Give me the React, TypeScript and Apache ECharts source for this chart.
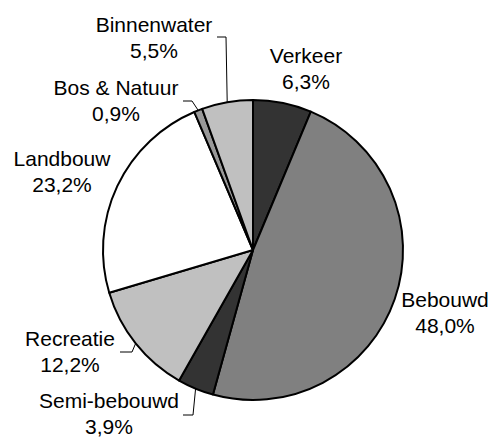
import React, { useEffect, useRef } from "react";
import * as echarts from "echarts";

const categories = ["Verkeer", "Bebouwd", "Semi-bebouwd", "Recreatie", "Landbouw", "Bos & Natuur", "Binnenwater"];
const values = [6.3, 48.0, 3.9, 12.2, 23.2, 0.9, 5.5];
const colors = ["#333333", "#808080", "#333333", "#c0c0c0", "#ffffff", "#999999", "#c0c0c0"];
const showLine = [false, false, true, true, false, true, true];
// label block centres and label-line elbows (layout only)
const labelCenters: [number, number][] = [
  [306, 68],
  [445, 312],
  [109, 413],
  [70, 351],
  [62, 171],
  [116, 100],
  [154, 37],
];
const lineElbows: ([number, number] | null)[] = [
  null,
  null,
  [193, 415],
  [132, 352],
  null,
  [192, 101],
  [226, 37],
];
const lineEnds: ([number, number] | null)[] = [
  null,
  null,
  [183, 415],
  [120, 352],
  null,
  [183, 101],
  [217, 37],
];

export default function App() {
  const ref = useRef<HTMLDivElement>(null);
  useEffect(() => {
    document.body.style.margin = "0";
    const chart = echarts.init(ref.current!, null, { renderer: "svg" });
    chart.setOption({
      animation: false,
      backgroundColor: "#ffffff",
      series: [
        {
          type: "pie",
          center: [253, 250],
          radius: 150,
          startAngle: 90,
          clockwise: true,
          avoidLabelOverlap: false,
          itemStyle: { borderColor: "#000000", borderWidth: 2 },
          label: {
            show: true,
            position: "outside",
            fontFamily: "'Liberation Sans', Arial, sans-serif",
            fontSize: 21,
            lineHeight: 26,
            color: "#000000",
            align: "center",
            formatter: (p: any) => `${p.name}\n${p.value.toFixed(1).replace(".", ",")}%`,
          },
          labelLine: { lineStyle: { color: "#000000", width: 1 } },
          labelLayout: (params: any) => {
            const i = params.dataIndex;
            const c = labelCenters[i];
            const res: any = { x: c[0], y: c[1], align: "center", verticalAlign: "middle" };
            if (showLine[i] && params.labelLinePoints) {
              const start = params.labelLinePoints[0];
              res.labelLinePoints = [start, lineElbows[i], lineEnds[i]];
            }
            return res;
          },
          data: categories.map((name, i) => ({
            name,
            value: values[i],
            itemStyle: { color: colors[i] },
            labelLine: { show: showLine[i] },
          })),
        },
      ],
    });
    return () => chart.dispose();
  }, []);
  return <div ref={ref} style={{ width: 491, height: 438 }} />;
}
